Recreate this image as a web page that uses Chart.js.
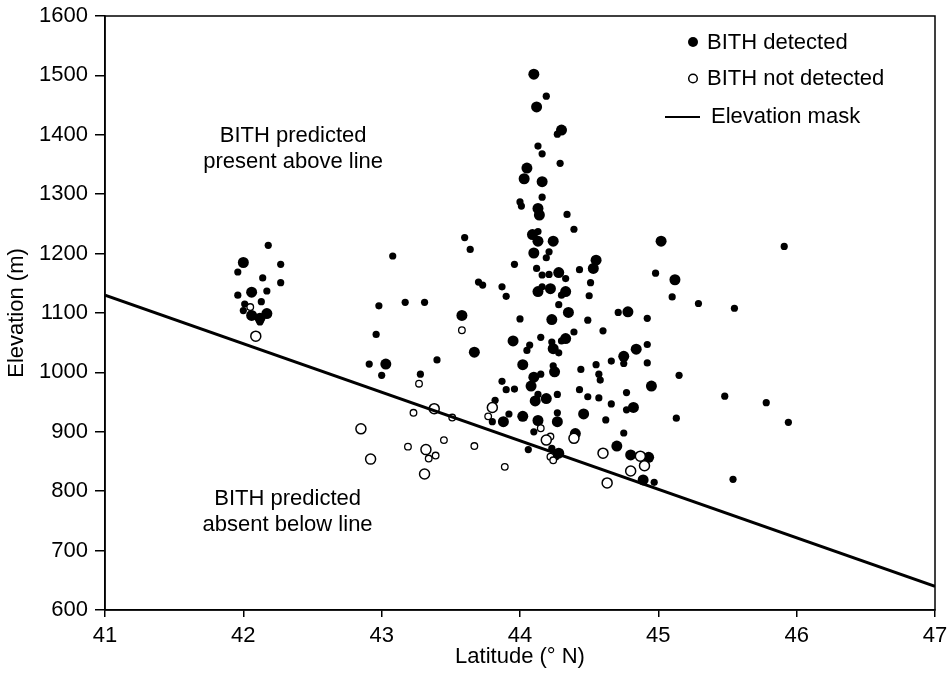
<!DOCTYPE html>
<html>
<head>
<meta charset="utf-8">
<title>BITH detections by latitude and elevation</title>
<script src="https://cdn.jsdelivr.net/npm/chart.js@4.4.1/dist/chart.umd.min.js"></script>
<style>
  html, body { margin: 0; padding: 0; background: #fff; }
  #wrap { width: 949px; height: 691px; }
</style>
</head>
<body>
<div id="wrap"><canvas id="chart" width="949" height="691"></canvas></div>
<script>
// survey points, [latitude, elevation]
const detectedLarge = [
  [42.00,1185],[42.06,1135],[42.06,1096],[42.12,1091],[42.17,1099],[43.58,1096],[43.67,1034],[43.03,1014],
  [44.10,1502],[44.12,1447],[44.30,1408],[44.05,1344],[44.03,1326],[44.16,1321],[44.13,1276],[44.14,1265],
  [44.09,1232],[44.13,1221],[44.24,1221],[44.10,1201],[44.28,1168],[44.13,1136],[44.22,1141],[44.33,1136],
  [44.35,1101],[44.23,1089],[43.95,1053],[44.24,1040],[44.33,1057],[44.02,1013],[44.25,1001],[44.10,992],
  [44.08,977],[44.11,952],[44.19,956],[44.02,926],[43.88,917],[44.13,919],[44.27,917],[44.40,897],
  [44.28,864],[44.55,1189],[44.53,1175],[44.78,1102],[44.84,1039],[44.75,1027],[44.95,977],[44.82,941],
  [44.46,930],[44.70,876],[44.80,861],[44.93,857],[44.89,819],[45.02,1221],[45.12,1156]
];
const detectedSmall = [
  [42.18,1214],[41.96,1169],[42.27,1182],[42.14,1159],[42.27,1151],[41.96,1130],[42.17,1137],[42.13,1119],
  [42.01,1115],[42.00,1104],[42.12,1085],[43.60,1227],[43.64,1207],[43.08,1196],[43.70,1152],[43.73,1147],
  [42.98,1112],[43.17,1118],[43.31,1118],[42.96,1064],[42.91,1014],[43.00,995],[43.40,1021],[43.28,997],
  [44.19,1465],[44.27,1401],[44.13,1381],[44.16,1368],[44.29,1352],[44.16,1295],[44.00,1287],[44.01,1280],
  [44.34,1266],[44.13,1237],[44.21,1203],[44.19,1193],[43.96,1182],[44.12,1175],[44.21,1165],[44.16,1164],
  [43.87,1144],[43.90,1128],[44.16,1144],[44.30,1130],[44.28,1114],[44.00,1090],[44.39,1068],[44.07,1046],
  [44.05,1037],[44.15,1059],[44.23,1051],[44.28,1033],[44.30,1053],[44.24,1011],[44.15,997],[43.87,985],
  [43.90,971],[43.96,972],[44.13,963],[44.27,963],[43.82,953],[43.92,930],[43.80,917],[44.27,932],
  [44.10,900],[44.06,870],[44.23,872],[44.26,858],[44.39,1241],[44.43,1173],[44.33,1158],[44.51,1151],
  [44.50,1129],[44.98,1167],[44.71,1101],[44.49,1088],[44.92,1091],[44.60,1070],[44.92,1047],[44.75,1015],
  [44.66,1019],[44.55,1013],[44.44,1005],[44.92,1016],[44.57,997],[44.58,987],[44.43,971],[44.49,959],
  [44.57,957],[44.77,966],[44.66,947],[44.77,937],[44.62,920],[44.75,898],[44.97,815],[45.91,1212],
  [45.10,1127],[45.29,1116],[45.55,1108],[45.15,995],[45.48,960],[45.78,949],[45.13,923],[45.94,916],
  [45.54,820]
];
const notDetectedLarge = [
  [42.09,1061],[43.38,939],[42.85,905],[43.32,870],[42.92,854],[43.31,829],[43.80,941],[44.19,886],
  [44.39,889],[44.60,864],[44.87,859],[44.90,843],[44.80,834],[44.63,814]
];
const notDetectedSmall = [
  [42.05,1110],[43.58,1071],[43.27,981],[43.23,932],[43.51,924],[43.45,886],[43.19,875],[43.67,876],
  [43.39,860],[43.34,855],[43.77,926],[44.15,906],[44.22,892],[44.22,858],[44.24,852],[43.89,841]
];

// elevation mask line
const maskLat = [41, 47];
const maskElev = [1130, 640];

const latTicks = [41, 42, 43, 44, 45, 46, 47];
const elevTicks = [600, 700, 800, 900, 1000, 1100, 1200, 1300, 1400, 1500, 1600];

const legendLabels = ["BITH detected", "BITH not detected", "Elevation mask"];
const notes = [
  { text: "BITH predicted", lat: 42.36, elev: 1398 },
  { text: "present above line", lat: 42.36, elev: 1354 },
  { text: "BITH predicted", lat: 42.32, elev: 787 },
  { text: "absent below line", lat: 42.32, elev: 743 }
];

const FONT = '"Liberation Sans", Arial, Helvetica, sans-serif';
const FSIZE = 22;
Chart.defaults.font.family = FONT;
Chart.defaults.font.size = FSIZE;
Chart.defaults.color = "#000";

const toXY = pts => pts.map(p => ({ x: p[0], y: p[1] }));

// frame, text notes and the legend inside the plot
const extras = {
  id: "extras",
  beforeDatasetsDraw(chart) {
    const a = chart.chartArea;
    const ctx = chart.ctx;
    ctx.save();
    ctx.strokeStyle = "#000";
    ctx.lineWidth = 1.5;
    ctx.strokeRect(a.left, a.top, a.right - a.left, a.bottom - a.top);
    ctx.restore();
  },
  afterDraw(chart) {
    const ctx = chart.ctx;
    const a = chart.chartArea;
    const xs = chart.scales.x, ys = chart.scales.y;
    ctx.save();
    ctx.fillStyle = "#000";
    ctx.font = FSIZE + "px " + FONT;
    ctx.textBaseline = "middle";

    ctx.textAlign = "center";
    notes.forEach(n => {
      ctx.fillText(n.text, xs.getPixelForValue(n.lat), ys.getPixelForValue(n.elev));
    });

    // legend
    ctx.textAlign = "left";
    const mx = a.right - 242;
    ctx.beginPath();
    ctx.arc(mx, a.top + 26, 5, 0, Math.PI * 2);
    ctx.fill();
    ctx.fillText(legendLabels[0], a.right - 228, a.top + 27);

    ctx.beginPath();
    ctx.arc(mx, a.top + 62.5, 4.3, 0, Math.PI * 2);
    ctx.fillStyle = "#fff";
    ctx.fill();
    ctx.strokeStyle = "#000";
    ctx.lineWidth = 1.5;
    ctx.stroke();
    ctx.fillStyle = "#000";
    ctx.fillText(legendLabels[1], a.right - 228, a.top + 63);

    ctx.beginPath();
    ctx.moveTo(a.right - 270, a.top + 101);
    ctx.lineTo(a.right - 235, a.top + 101);
    ctx.lineWidth = 2;
    ctx.stroke();
    ctx.fillText(legendLabels[2], a.right - 224, a.top + 101);
    ctx.restore();
  }
};

new Chart(document.getElementById("chart"), {
  type: "scatter",
  data: {
    datasets: [
      {
        label: "Elevation mask",
        data: maskLat.map((v, i) => ({ x: v, y: maskElev[i] })),
        showLine: true,
        borderColor: "#000",
        borderWidth: 3,
        pointRadius: 0,
        order: 0
      },
      {
        label: "BITH not detected",
        data: toXY(notDetectedLarge),
        pointRadius: 5,
        pointBackgroundColor: "#fff",
        pointBorderColor: "#000",
        pointBorderWidth: 1.5,
        order: 1
      },
      {
        label: "BITH not detected (small)",
        data: toXY(notDetectedSmall),
        pointRadius: 3.3,
        pointBackgroundColor: "#fff",
        pointBorderColor: "#000",
        pointBorderWidth: 1.3,
        order: 2
      },
      {
        label: "BITH detected",
        data: toXY(detectedLarge),
        pointRadius: 5.5,
        pointBackgroundColor: "#000",
        pointBorderWidth: 0,
        order: 3
      },
      {
        label: "BITH detected (small)",
        data: toXY(detectedSmall),
        pointRadius: 3.6,
        pointBackgroundColor: "#000",
        pointBorderWidth: 0,
        order: 4
      }
    ]
  },
  options: {
    responsive: false,
    animation: false,
    layout: { padding: { top: 16, right: 14, left: 0, bottom: 0 } },
    plugins: {
      legend: { display: false },
      tooltip: { enabled: false }
    },
    scales: {
      x: {
        type: "linear",
        min: 41,
        max: 47,
        afterBuildTicks: s => { s.ticks = latTicks.map(v => ({ value: v })); },
        afterFit: s => { s.height = 81; s.paddingRight = 0; s.paddingLeft = 0; },
        grid: { drawOnChartArea: false, color: "#000", tickLength: 7, lineWidth: 1.5 },
        border: { color: "#000", width: 1.5 },
        ticks: { padding: 6, maxRotation: 0, font: { size: FSIZE }, callback: v => String(v) },
        title: { display: true, text: "Latitude (\u00B0 N)", font: { size: FSIZE }, padding: { top: 0, bottom: 21 } }
      },
      y: {
        type: "linear",
        min: 600,
        max: 1600,
        afterBuildTicks: s => { s.ticks = elevTicks.map(v => ({ value: v })); },
        afterFit: s => { s.width = 105; s.paddingTop = 0; s.paddingBottom = 0; },
        grid: { drawOnChartArea: false, color: "#000", tickLength: 10, lineWidth: 1.5 },
        border: { color: "#000", width: 1.5 },
        ticks: { padding: 7, font: { size: FSIZE }, callback: v => String(v) },
        title: { display: true, text: "Elevation (m)", font: { size: FSIZE }, padding: { top: 4, bottom: 0 } }
      }
    }
  },
  plugins: [extras]
});
</script>
</body>
</html>
